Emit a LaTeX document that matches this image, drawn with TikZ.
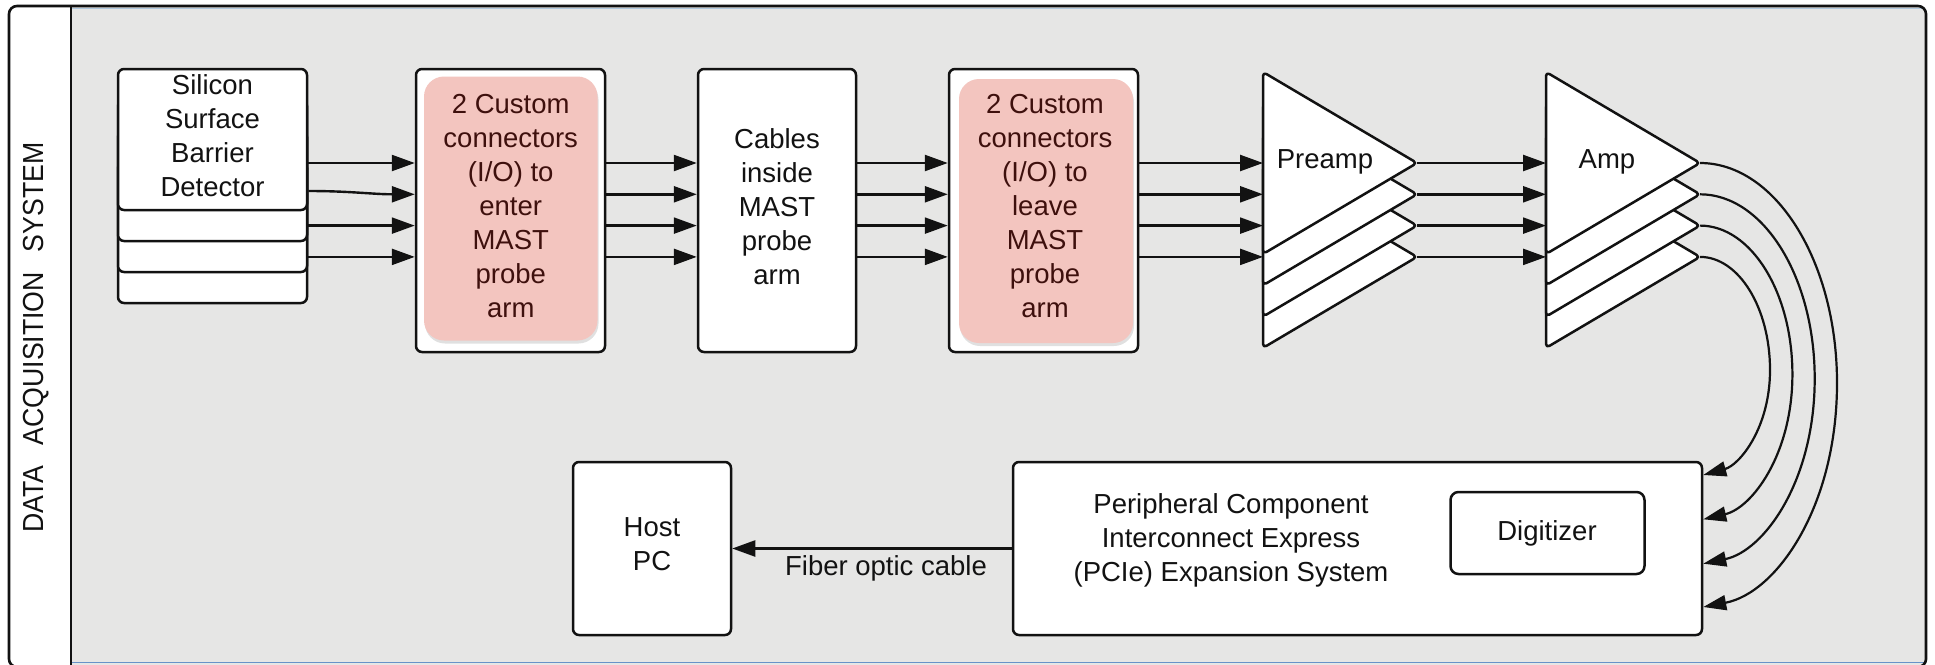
\documentclass[tikz,border=0pt]{standalone}
\usepackage{fontspec}
\setmainfont{Liberation Sans}
\usetikzlibrary{arrows.meta,shadows}

\definecolor{panelgray}{RGB}{230,230,229}
\definecolor{pinkfill}{RGB}{243,197,191}
\definecolor{pinktext}{RGB}{62,16,13}
\definecolor{inkblack}{RGB}{18,18,18}
\definecolor{edgeblue}{RGB}{104,146,200}
\definecolor{paleblue}{RGB}{176,200,222}

\begin{document}
\begin{tikzpicture}[x=1pt,y=-1pt,
  frame/.style={draw=inkblack, line width=2.6pt},
  box/.style={draw=inkblack, line width=2.5pt, fill=white, rounded corners=6pt,
              inner sep=0pt},
  pinkbox/.style={fill=pinkfill, rounded corners=20pt, inner sep=0pt,
              drop shadow={shadow xshift=1pt, shadow yshift=-3pt, opacity=0.12, fill=black}},
  lbl/.style={font=\fontsize{27.5}{34}\selectfont, align=center, inner sep=0pt,
              text=inkblack},
  pinklbl/.style={lbl, text=pinktext},
  tri/.style={draw=inkblack, line width=2.5pt, fill=white, rounded corners=4pt,
              line join=round},
  conn/.style={draw=inkblack, line width=2.4pt, -{Triangle[length=23pt,width=16pt]}},
  loop/.style={draw=inkblack, line width=2.2pt, -{Triangle[length=23pt,width=15pt]}},
]
\useasboundingbox (0,0) rectangle (1935,664);

% ---- outer frame with the side title strip ----
\begin{scope}
  \clip[rounded corners=8pt] (9,6) rectangle (1926,667);
  \fill[white] (9,6) rectangle (71,667);
  \fill[panelgray] (71,6) rectangle (1926,667);
\end{scope}
\draw[paleblue, line width=1pt] (72,8.8) -- (1924,8.8);
\draw[edgeblue, line width=1.4pt] (72,662.6) -- (1924,662.6);
\draw[frame, rounded corners=8pt] (9,6) rectangle (1926,667);
\draw[frame] (71,6) -- (71,667);

\node[rotate=90, inner sep=0pt, text=inkblack, font=\fontsize{29}{29}\selectfont]
  (title) at (36.5,337.5)
  {\scalebox{0.92}[1]{DATA\hspace{0.75em}ACQUISITION\hspace{0.75em}SYSTEM}};

% ---- signal levels of the four channels ----
\coordinate (r1) at (0,163);
\coordinate (r2) at (0,194.3);
\coordinate (r3) at (0,225.6);
\coordinate (r4) at (0,256.9);
\coordinate (r2a) at (0,191);

% ---- detector stack ----
\node[box, minimum width=189pt, minimum height=141pt] (det4) at (212.5,232.5) {};
\node[box, minimum width=189pt, minimum height=141pt] (det3) at (212.5,201.5) {};
\node[box, minimum width=189pt, minimum height=141pt] (det2) at (212.5,170.5) {};
\node[box, minimum width=189pt, minimum height=141pt] (det) at (212.5,139.5) {};
\node[lbl] (detT) at (212.5,136) {Silicon\\Surface\\Barrier\\Detector};

% ---- connector boxes and cable box ----
\node[box, minimum width=189pt, minimum height=283pt] (enter) at (510.5,210.5) {};
\node[pinkbox, minimum width=173.5pt, minimum height=264pt] (enterIn) at (510.75,208.5) {};
\node[pinklbl] (enterT) at (510.75,206) {2 Custom\\connectors\\(I/O) to\\enter\\MAST\\probe\\arm};

\node[box, minimum width=158pt, minimum height=283pt] (cables) at (777,210.5) {};
\node[lbl] (cablesT) at (777,206.5) {Cables\\inside\\MAST\\probe\\arm};

\node[box, minimum width=189pt, minimum height=283pt] (leave) at (1043.5,210.5) {};
\node[pinkbox, minimum width=174pt, minimum height=264pt] (leaveIn) at (1046,211) {};
\node[pinklbl] (leaveT) at (1045,206) {2 Custom\\connectors\\(I/O) to\\leave\\MAST\\probe\\arm};

% ---- preamplifier and amplifier stacks ----
\foreach \k in {3,2,1,0}{
  \filldraw[tri] (1263,72+31.3*\k) -- (1417,163+31.3*\k) -- (1263,254+31.3*\k) -- cycle;
  \filldraw[tri] (1546,72+31.3*\k) -- (1700,163+31.3*\k) -- (1546,254+31.3*\k) -- cycle;
}
\coordinate (preIn) at (1263,163);
\coordinate (ampIn) at (1546,163);
\coordinate (preTip1) at (1417,163);
\coordinate (preTip2) at (1417,194.3);
\coordinate (preTip3) at (1417,225.6);
\coordinate (preTip4) at (1417,256.9);
\coordinate (ampTip1) at (1700,163);
\coordinate (ampTip2) at (1700,194.3);
\coordinate (ampTip3) at (1700,225.6);
\coordinate (ampTip4) at (1700,256.9);
\node[lbl, anchor=base] (preT) at (1325,168) {Preamp};
\node[lbl, anchor=base] (ampT) at (1607,168) {Amp};

% ---- lower row ----
\node[box, minimum width=158pt, minimum height=173pt] (host) at (652,548.5) {};
\node[lbl] (hostT) at (652,544.5) {Host\\PC};
\node[box, minimum width=689pt, minimum height=173pt] (pcie) at (1357.5,548.5) {};
\node[lbl] (pcieT) at (1231,540) {Peripheral Component\\Interconnect Express\\(PCIe) Expansion System};
\node[box, rounded corners=8pt, minimum width=194pt, minimum height=82pt] (dig) at (1547.5,533) {};
\node[lbl, anchor=base] (digT) at (1547,540) {Digitizer};

% ---- straight channel connectors ----
\draw[conn] (det.east |- r1) -- (enter.west |- r1);
\draw[conn] (det.east |- r2a) to[out=0,in=180] (enter.west |- r2);
\draw[conn] (det.east |- r3) -- (enter.west |- r3);
\draw[conn] (det.east |- r4) -- (enter.west |- r4);
\foreach \r in {r1,r2,r3,r4}{
  \draw[conn] (enter.east |- \r) -- (cables.west |- \r);
  \draw[conn] (cables.east |- \r) -- (leave.west |- \r);
  \draw[conn] (leave.east |- \r) -- (preIn |- \r);
}
\draw[conn] (preTip1) -- (ampIn |- preTip1);
\draw[conn] (preTip2) -- (ampIn |- preTip2);
\draw[conn] (preTip3) -- (ampIn |- preTip3);
\draw[conn] (preTip4) -- (ampIn |- preTip4);

% ---- looped cables from the amplifiers into the PCIe chassis ----
\coordinate (in1) at (1702,607);
\coordinate (in2) at (1702,563.7);
\coordinate (in3) at (1702,519.3);
\coordinate (in4) at (1702,475);
\draw[loop] (ampTip1) .. controls (1775.6,163) and (1837,261.6) .. (1837,383)
  .. controls (1837,506.6) and (1776.5,593) .. (pcie.east |- in1);
\draw[loop] (ampTip2) .. controls (1763.3,194.3) and (1814.7,276.9) .. (1814.7,378.7)
  .. controls (1814.7,480.8) and (1764.2,551) .. (pcie.east |- in2);
\draw[loop] (ampTip3) .. controls (1751,225.6) and (1792.4,292.3) .. (1792.4,374.4)
  .. controls (1792.4,454.4) and (1751.9,508) .. (pcie.east |- in3);
\draw[loop] (ampTip4) .. controls (1738.6,256.9) and (1770,307.6) .. (1770,370)
  .. controls (1770,428) and (1739.5,465) .. (pcie.east |- in4);

% ---- fibre link to the host ----
\draw[conn] (pcie.west) -- (host.east);
\node[lbl, anchor=base] (fiberT) at (886,575) {Fiber optic cable};
\end{tikzpicture}
\end{document}
